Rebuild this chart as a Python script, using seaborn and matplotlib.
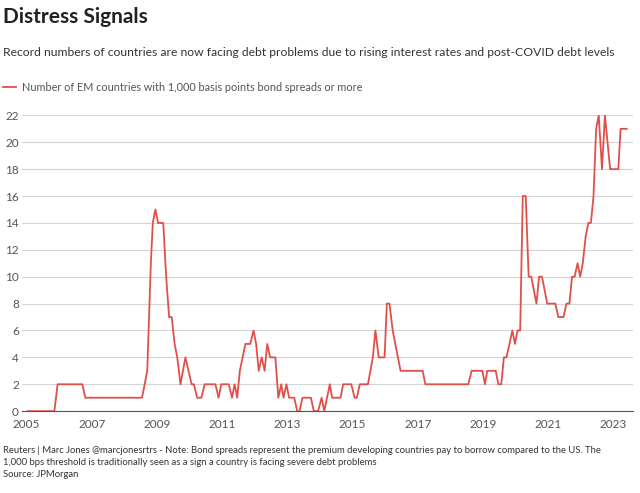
import matplotlib
matplotlib.use("Agg")
import matplotlib.pyplot as plt
import seaborn as sns
import pandas as pd

years = [2005.03,2005.85,2005.95,2006.71,2006.80,2008.54,2008.62,2008.70,2008.81,2008.87,
         2008.95,2009.03,2009.19,2009.28,2009.37,2009.45,2009.54,2009.62,2009.72,2009.87,
         2010.06,2010.13,2010.23,2010.36,2010.46,2010.79,2010.89,2010.97,2011.20,2011.30,
         2011.38,2011.46,2011.54,2011.71,2011.86,2011.96,2012.04,2012.12,2012.21,2012.30,
         2012.38,2012.47,2012.63,2012.72,2012.81,2012.88,2012.97,2013.05,2013.21,2013.30,
         2013.37,2013.46,2013.72,2013.81,2013.94,
         2014.05,2014.13,2014.30,2014.37,2014.63,2014.71,2014.96,2015.06,2015.13,2015.22,
         2015.47,2015.62,2015.70,2015.80,2015.98,2016.05,2016.13,2016.23,2016.47,2017.15,
         2017.23,2018.55,2018.65,2018.98,2019.06,2019.13,2019.39,2019.47,2019.56,2019.64,
         2019.72,2019.90,2019.98,2020.06,2020.14,2020.22,2020.31,2020.40,2020.48,2020.64,
         2020.72,2020.81,2020.97,2021.22,2021.31,2021.47,2021.56,2021.65,2021.73,2021.81,
         2021.90,2021.98,2022.06,2022.15,2022.23,2022.31,2022.39,2022.47,2022.55,2022.65,
         2022.74,2022.82,2022.90,2023.15,2023.22,2023.41]
counts = [0,0,2,2,1,1,2,3,11,14,15,14,14,10,7,7,5,4,2,4,2,2,1,1,2,2,1,2,2,1,2,1,3,5,5,6,5,3,4,3,
          5,4,4,1,2,1,2,1,1,0,0,1,1,0,0,
          1,0,2,1,1,2,2,1,1,2,2,4,6,4,4,8,8,6,3,3,2,2,3,3,2,3,3,2,2,4,4,6,5,6,6,16,16,10,10,8,
          10,10,8,8,7,7,8,8,10,10,11,10,11,13,14,14,16,21,22,18,22,20,18,18,21,21]
x_ticks = list(range(2005, 2024, 2))
y_ticks = list(range(0, 23, 2))

df = pd.DataFrame({"year": years, "count": counts})
plt.rcParams["font.family"] = "Lato"
fig = plt.figure(figsize=(6.4, 4.93), dpi=100)
ax = fig.add_axes([0.034, 0.166, 0.955, 0.6])
red = "#e0504a"
sns.lineplot(data=df, x="year", y="count", ax=ax, color=red, linewidth=1.3, legend=False)
ax.set_xlim(2004.85, 2023.6)
ax.set_ylim(0, 22)
ax.set_xticks(x_ticks)
ax.set_yticks(y_ticks)
ax.grid(axis="y", color="#d4d4d4", linewidth=0.8)
ax.set_axisbelow(True)
for s in ["top", "right", "left"]:
    ax.spines[s].set_visible(False)
ax.spines["bottom"].set_color("#555555")
ax.tick_params(axis="both", length=0, labelsize=8.5, labelcolor="#555555")
ax.tick_params(axis="x", pad=6)
ax.tick_params(axis="y", pad=2)
ax.set_xlabel(""); ax.set_ylabel("")

fig.text(0.005, 0.985, "Distress Signals", fontsize=15, fontweight="bold", va="top", color="#222222")
fig.text(0.005, 0.905, "Record numbers of countries are now facing debt problems due to rising interest rates and post-COVID debt levels",
         fontsize=8.75, va="top", color="#333333")
fig.add_artist(plt.Line2D([0.005, 0.025], [0.823, 0.823], color=red, linewidth=1.3))
fig.text(0.035, 0.823, "Number of EM countries with 1,000 basis points bond spreads or more", fontsize=7.8,
         va="center", color="#555555")
fig.text(0.005, 0.095, "Reuters | Marc Jones @marcjonesrtrs - Note: Bond spreads represent the premium developing countries pay to borrow compared to the US. The\n1,000 bps threshold is traditionally seen as a sign a country is facing severe debt problems\nSource: JPMorgan",
         fontsize=6.8, va="top", color="#333333", linespacing=1.4)
fig.savefig("out.png", dpi=100)
